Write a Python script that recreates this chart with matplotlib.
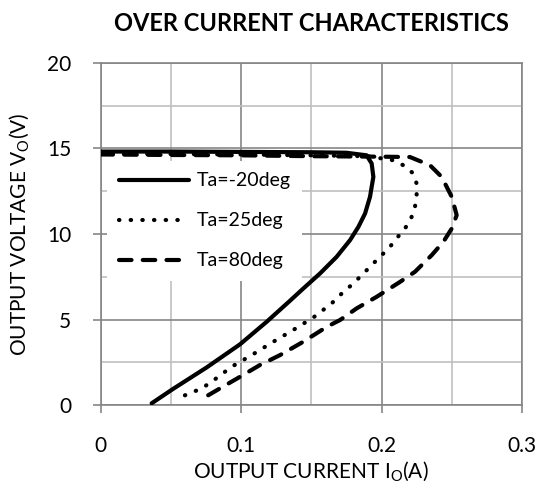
import matplotlib
matplotlib.use("Agg")
import matplotlib.pyplot as plt
from matplotlib.ticker import MultipleLocator

plt.rcParams['font.family'] = ['Lato', 'DejaVu Sans']

# 读取图上的数据点 (电流 A, 电压 V)
cur_m20 = [0.0, 0.05, 0.10, 0.15, 0.175, 0.1894, 0.193, 0.1942, 0.1918, 0.1883,
           0.1835, 0.1776, 0.168, 0.1562, 0.1443, 0.1349, 0.1183, 0.0993, 0.0756,
           0.0518, 0.0364]
volt_m20 = [14.82, 14.82, 14.8, 14.78, 14.75, 14.6, 14.12, 13.34, 12.17, 11.2,
            10.41, 9.64, 8.66, 7.69, 6.81, 6.1, 4.87, 3.55, 2.2,
            0.95, 0.1]

cur_25 = [0.0, 0.05, 0.10, 0.15, 0.19, 0.2084, 0.2155, 0.2222, 0.225, 0.225, 0.2238,
          0.221, 0.2167, 0.2113, 0.206, 0.2001, 0.1942, 0.1883, 0.1823, 0.1764, 0.1705,
          0.1645, 0.1515, 0.137, 0.123, 0.1076, 0.0934, 0.0791, 0.072, 0.0578]
volt_25 = [14.7, 14.68, 14.65, 14.6, 14.55, 14.31, 14.02, 13.57, 12.95, 12.27, 11.58,
           10.9, 10.32, 9.8, 9.25, 8.76, 8.28, 7.79, 7.3, 6.85, 6.43,
           5.94, 5.12, 4.38, 3.7, 2.92, 2.24, 1.36, 0.97, 0.49]

cur_80 = [0.0, 0.05, 0.10, 0.15, 0.20, 0.2203, 0.2345, 0.2428, 0.25, 0.2535, 0.25,
          0.244, 0.2357, 0.2238, 0.2132, 0.1966, 0.1823, 0.1705, 0.161, 0.1443, 0.1278,
          0.1135, 0.0993, 0.085, 0.0708]
volt_80 = [14.65, 14.62, 14.6, 14.55, 14.52, 14.5, 14.02, 13.34, 12.17, 11.1, 10.32,
           9.54, 8.76, 7.79, 7.2, 6.33, 5.65, 4.97, 4.57, 3.7, 2.92,
           2.34, 1.65, 0.97, 0.29]

labels = ['Ta=-20deg', 'Ta=25deg', 'Ta=80deg']

MAJOR = '#868686'
MINOR = '#c0c0c0'

fig = plt.figure(figsize=(5.41, 4.92), dpi=100)
ax = fig.add_axes([0.1858, 0.1768, 0.9649 - 0.1858, 0.872 - 0.1768])

ax.plot(cur_m20, volt_m20, color='black', lw=3.0, solid_capstyle='round',
        solid_joinstyle='round', label=labels[0], zorder=3)
ax.plot(cur_25, volt_25, color='black', lw=3.0, linestyle=(0, (0.1, 2.7)),
        dash_capstyle='round', label=labels[1], zorder=3)
ax.plot(cur_80, volt_80, color='black', lw=3.0, linestyle=(0, (3.0, 2.7)),
        dash_capstyle='round', label=labels[2], zorder=3)

ax.set_xlim(0, 0.3)
ax.set_ylim(0, 20)
ax.set_xticks([0, 0.1, 0.2, 0.3])
ax.set_xticklabels(['0', '0.1', '0.2', '0.3'])
ax.xaxis.set_minor_locator(MultipleLocator(0.05))
ax.yaxis.set_major_locator(MultipleLocator(5))
ax.yaxis.set_minor_locator(MultipleLocator(2.5))

ax.grid(which='major', color=MAJOR, lw=1.2, zorder=0)
ax.grid(which='minor', color=MINOR, lw=1.2, zorder=0)
ax.set_axisbelow(True)

for s in ax.spines.values():
    s.set_color(MAJOR)
    s.set_linewidth(1.2)
ax.tick_params(which='major', direction='out', length=6, width=1.2, color=MAJOR,
               labelsize=15)
ax.tick_params(axis='x', which='major', pad=16)
ax.tick_params(axis='y', which='major', pad=15)
ax.tick_params(which='minor', length=0)

ax.set_xlabel('OUTPUT CURRENT I$_\\mathregular{O}$(A)', fontsize=15, labelpad=3)
ax.set_ylabel('OUTPUT VOLTAGE V$_\\mathregular{O}$(V)', fontsize=15, labelpad=11)
ax.set_title('OVER CURRENT CHARACTERISTICS', fontsize=17, fontweight='bold', pad=23)

leg = ax.legend(loc='upper left', bbox_to_anchor=(0.0154, 0.714), frameon=True,
                fontsize=14, handlelength=3.6, handletextpad=0.4,
                labelspacing=1.18, borderpad=0.6, borderaxespad=0, fancybox=False)
leg.get_frame().set_edgecolor('none')
leg.get_frame().set_facecolor('white')
leg.get_frame().set_alpha(1)

fig.savefig('out.png', dpi=100)
